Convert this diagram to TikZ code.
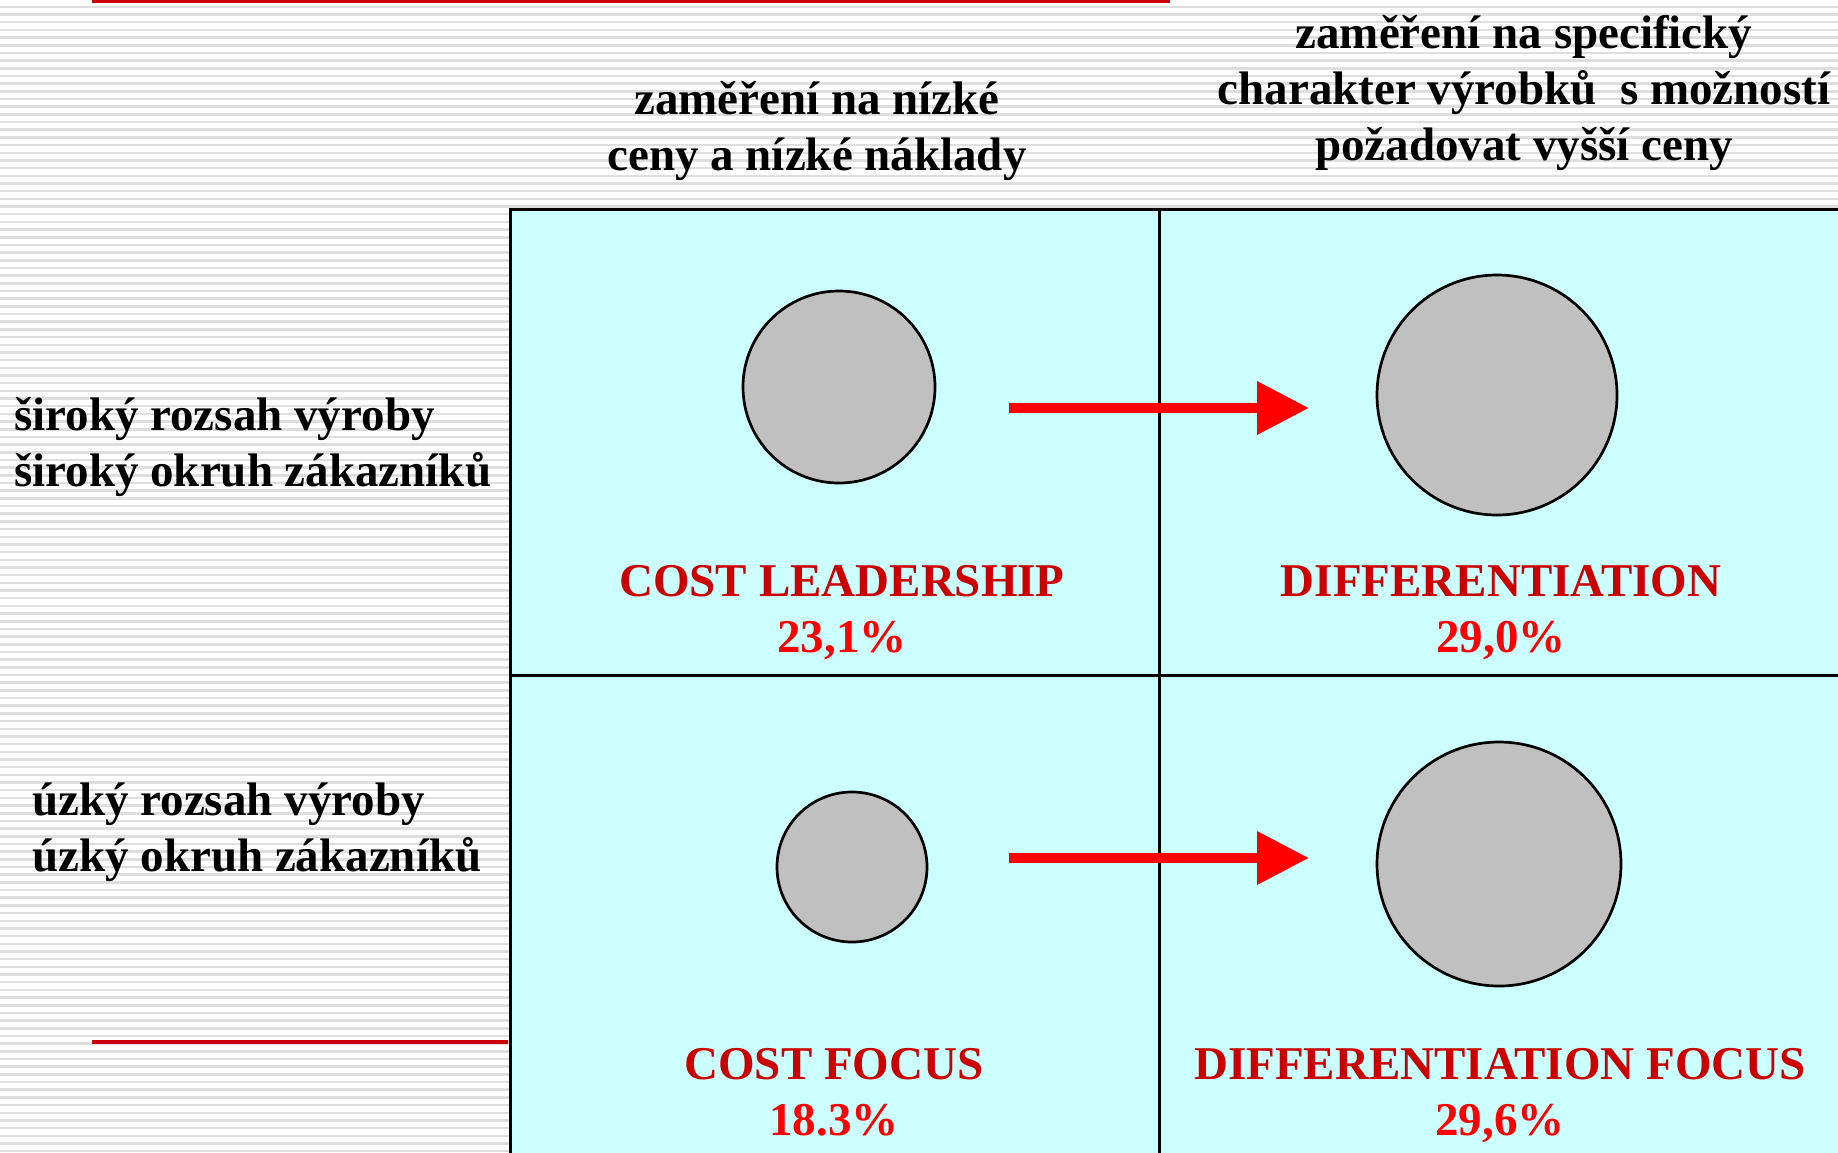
\documentclass[tikz,border=0pt]{standalone}
\usepackage{fontspec}
\setmainfont{Liberation Serif}
\usetikzlibrary{arrows.meta}
\definecolor{stripegray}{rgb}{0.87,0.87,0.87}
\definecolor{cellcyan}{rgb}{0.8,1,1}
\definecolor{darkred}{rgb}{0.8,0,0}
\definecolor{discgray}{rgb}{0.753,0.753,0.753}

\begin{document}
\begin{tikzpicture}[
  x=1pt, y=-1pt,
  every node/.style={
    inner sep=0pt,
    font=\fontsize{47}{56}\selectfont\bfseries,
  },
  cell/.style={draw, line width=3pt, fill=cellcyan, anchor=north west},
  disc/.style={circle, draw, line width=2.7pt, fill=discgray},
  colhead/.style={align=center, anchor=base},
  rowhead/.style={align=left, anchor=base west},
  strategy/.style={align=center, anchor=base, text=darkred},
  movearrow/.style={red, line width=10pt, -{Triangle[length=52pt, width=51pt]}},
]
\useasboundingbox (0,0) rectangle (1838,1152);
\clip (0,0) rectangle (1838,1152);

\fill[white] (0,0) rectangle (1838,1152);
\foreach \i in {0,...,149}
  \fill[stripegray] (0,{5.6+7.68*\i}) rectangle (1838,{8.1+7.68*\i});

\draw[darkred, line width=3pt] (92,1.5) -- (1170,1.5);
\draw[darkred, line width=4pt] (92,1042) -- (508,1042);

\node[cell, minimum width=649pt, minimum height=466.5pt] (c11) at (508.5,207.5) {};
\node[cell, minimum width=700pt, minimum height=466.5pt] (c12) at (1157.5,207.5) {};
\node[cell, minimum width=649pt, minimum height=500pt] (c21) at (508.5,674) {};
\node[cell, minimum width=700pt, minimum height=500pt] (c22) at (1157.5,674) {};

\node[disc, minimum size=192pt] (cl) at (839,387) {};
\node[disc, minimum size=240pt] (df) at (1497,395) {};
\node[disc, minimum size=150pt] (cf) at (852,867) {};
\node[disc, minimum size=244pt] (dff) at (1499,864) {};

\coordinate (a1) at (1009,408);
\coordinate (b1) at (1309,408);
\coordinate (a2) at (1009,858);
\coordinate (b2) at (1309,858);
\draw[movearrow] (a1) -- (b1);
\draw[movearrow] (a2) -- (b2);

\node[colhead] (h1) at (817,170) {zaměření na nízké\\ceny a nízké náklady};
\node[colhead] (h2) at (1524,160) {zaměření na specifický\\charakter výrobků\ \ s možností\\požadovat vyšší ceny};

\node[rowhead] (r1) at (14,486) {široký rozsah výroby\\široký okruh zákazníků};
\node[rowhead] (r2) at (32,871) {úzký rozsah výroby\\úzký okruh zákazníků};

\node[strategy] (s1) at (842,652) {COST LEADERSHIP\\\textcolor{red}{23,1\%}};
\node[strategy] (s2) at (1501,652) {DIFFERENTIATION\\\textcolor{red}{29,0\%}};
\node[strategy] (s3) at (834,1135) {COST FOCUS\\\textcolor{red}{18.3\%}};
\node[strategy] (s4) at (1500,1135) {DIFFERENTIATION FOCUS\\\textcolor{red}{29,6\%}};

\end{tikzpicture}
\end{document}
